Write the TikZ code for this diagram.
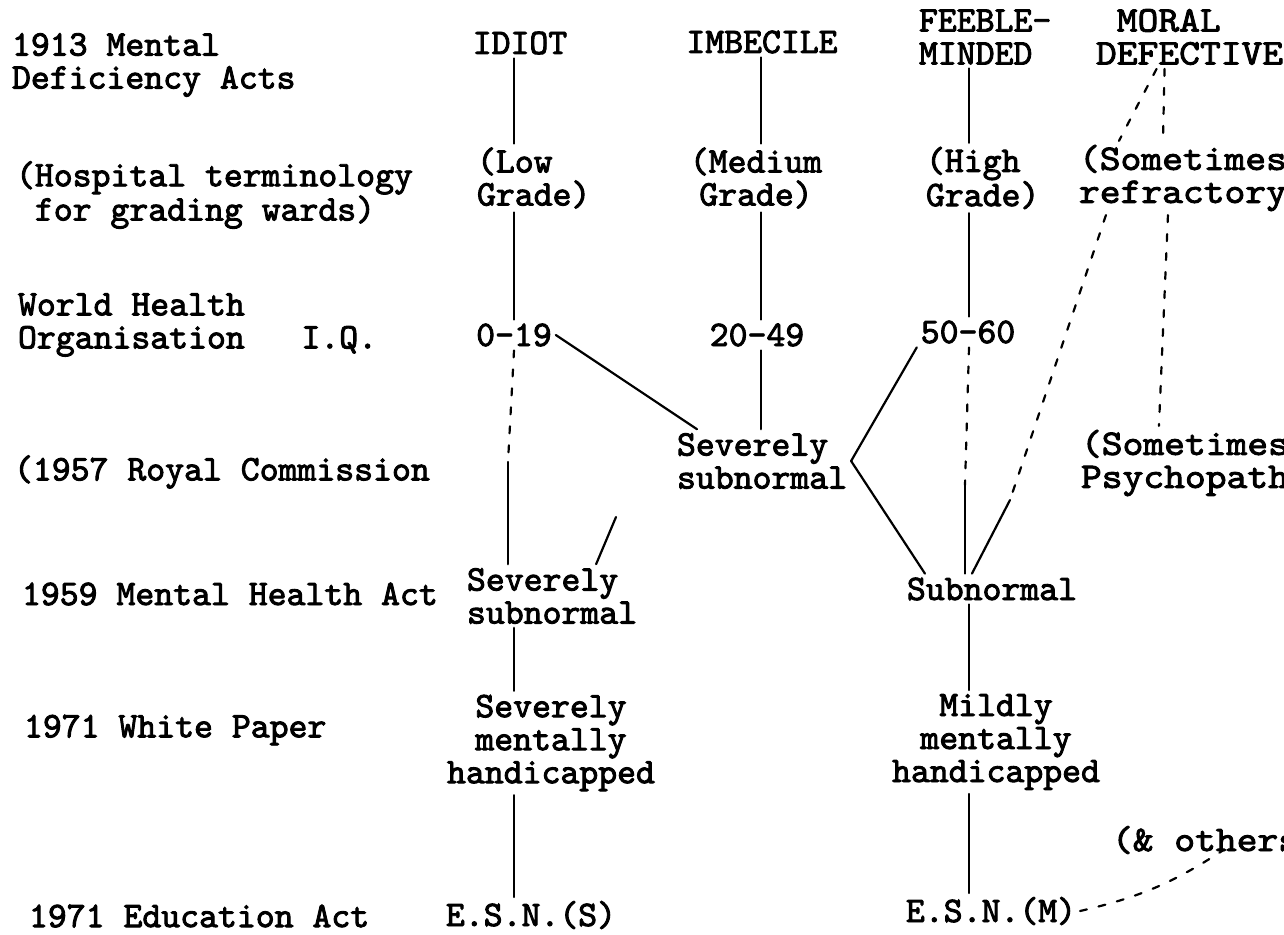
\documentclass[tikz,border=0pt]{standalone}
\usepackage{fontspec}
\newfontfamily\tw{lmmono10-regular.otf}[FakeBold=2.5]
\newfontfamily\twwide{lmmono10-regular.otf}[FakeBold=2.5,FakeStretch=1.1]
\tikzset{
  lbl/.style={font=\tw\fontsize{36pt}{33pt}\selectfont, inner sep=0pt, outer sep=4pt, align=center},
  side/.style={lbl, align=left, anchor=west},
  far/.style={side, font=\twwide\fontsize{36pt}{33pt}\selectfont},
  gap/.style={dash pattern=on 7pt off 12pt},
}
\begin{document}
\begin{tikzpicture}[x=1pt,y=-1pt,line width=2.2pt,line cap=round]
      \useasboundingbox (0,0) rectangle (1284,934);
      \fill[white] (0,0) rectangle (1284,934);
      \node[side] (r1913) at (8,65) {1913 Mental\\Deficiency Acts};
      \node[side] (rhosp) at (12,195) {(Hospital terminology\\~for grading wards)};
      \node[side] (rwho) at (14,325) {World Health\\Organisation~~~I.Q.};
      \node[side] (r1957) at (10,472) {(1957 Royal Commission};
      \node[side] (r1959) at (18,594) {1959 Mental Health Act};
      \node[side] (rwhite) at (20,730) {1971 White Paper};
      \node[side] (reduc) at (25,916) {1971 Education Act};
      \node[lbl] (idiot) at (520,43) {IDIOT};
      \node[lbl] (imbecile) at (762,42) {IMBECILE};
      \node[side] (feeble) at (915,37) {FEEBLE-\\MINDED};
      \node[far] (moral) at (1092,37) {~MORAL\\DEFECTIVE};
      \node[side] (low) at (473,178) {(Low\\Grade)};
      \node[lbl] (medium) at (756,178) {(Medium\\Grade)};
      \node[side] (high) at (922,178) {(High\\Grade)};
      \node[far] (refr) at (1075,178) {(Sometimes\\refractory};
      \node[lbl] (iqa) at (514,335) {0-19};
      \node[lbl] (iqb) at (757,335) {20-49};
      \node[lbl] (iqc) at (968,332) {50-60};
      \node[side] (ssa) at (673,461) {Severely\\subnormal};
      \node[far] (psych) at (1077,463) {(Sometimes\\Psychopath};
      \node[side] (ssb) at (463,596) {Severely\\subnormal};
      \node[lbl] (subn) at (992,589) {Subnormal};
      \node[lbl] (smh) at (551,743) {Severely\\mentally\\handicapped};
      \node[lbl] (mmh) at (996,742) {Mildly\\mentally\\handicapped};
      \node[lbl] (esns) at (531,915) {E.S.N.(S)};
      \node[lbl] (esnm) at (991,911) {E.S.N.(M)};
      \node[far] (others) at (1108,840) {(\&~others};
      \coordinate (colA) at (514,0);
      \coordinate (colB) at (761,0);
      \coordinate (colC) at (969,0);
      \coordinate (cA) at (508,462);
      \coordinate (cC) at (965,485);
      \coordinate (cD) at (1010,500);
      \coordinate (tick) at (616,517);
      \begin{scope}[-]
        \draw (idiot.south -| colA) -- (low.north -| colA);
        \draw (low.south -| colA) -- (iqa.north -| colA);
        \draw[gap] (iqa.south -| colA) -- (cA);
        \draw (cA) -- (ssb.north -| cA);
        \draw (ssb.south -| colA) -- (smh.north -| colA);
        \draw (smh.south -| colA) -- (esns.north -| colA);
        \draw (tick) -- ([xshift=-45pt]ssb.north east);
        \draw (imbecile.south -| colB) -- (medium.north -| colB);
        \draw (medium.south -| colB) -- (iqb.north -| colB);
        \draw (iqb.south -| colB) -- (ssa.north -| colB);
        \draw (iqa.east) -- ([xshift=24pt]ssa.north west);
        \draw (iqc.south west) -- (ssa.east);
        \draw (ssa.east) -- ([xshift=22pt]subn.north west);
        \draw (feeble.south -| colC) -- (high.north -| colC);
        \draw (high.south -| colC) -- (iqc.north -| colC);
        \draw[gap] (iqc.south -| colC) -- (cC);
        \draw (cC) -- (subn.north -| cC);
        \draw (subn.south -| colC) -- (mmh.north -| colC);
        \draw (mmh.south -| colC) -- (esnm.north -| colC);
        \draw[gap] ([xshift=-33pt]moral.south) -- ([xshift=-64pt]refr.north);
        \draw[gap] ([xshift=-25pt]moral.south) -- ([xshift=-20pt]refr.north);
        \draw[gap] ([xshift=-77pt]refr.south) -- (cD);
        \draw (cD) -- ([xshift=69pt]subn.north west);
        \draw[gap] ([xshift=-15pt]refr.south) -- ([xshift=-26pt]psych.north);
        \draw[gap] (esnm.east) to[bend right=10] ([xshift=18pt,yshift=8pt]others.south);
      \end{scope}
    \end{tikzpicture}
\end{document}
